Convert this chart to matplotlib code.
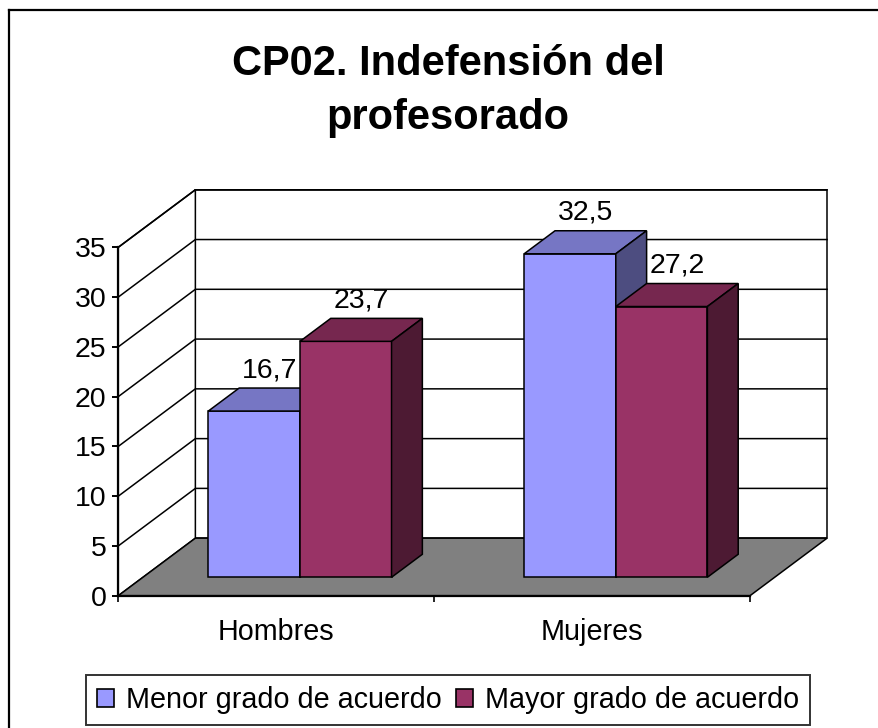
import matplotlib
matplotlib.use("Agg")
import matplotlib.pyplot as plt
from matplotlib.patches import Polygon, Patch
from matplotlib.lines import Line2D

plt.rcParams['font.family'] = ['Liberation Sans', 'DejaVu Sans']

# data
categories = ['Hombres', 'Mujeres']
series = ['Menor grado de acuerdo', 'Mayor grado de acuerdo']
menor = [16.7, 32.5]
mayor = [23.7, 27.2]
values = [menor, mayor]
yticks = [0, 5, 10, 15, 20, 25, 30, 35]

# styling
front_cols = ['#9999FF', '#993366']
top_cols = ['#7676C4', '#76274F']
side_cols = ['#4D4D80', '#4D1A33']
YMAX = 35
DX, DY = 0.244, 5.78        # oblique depth offset, in data units
D0, D1 = 0.32, 0.72         # bar depth range (fraction of floor depth)
BAR_W = 0.29
BAR_X0 = 0.207

W, H = 879, 728
fig = plt.figure(figsize=(W / 100, H / 100), dpi=100)
ax = fig.add_axes([118.3 / W, (H - 595.7) / H, (750 - 118.3) / W, (595.7 - 247.3) / H])
ax.set_xlim(0, len(categories))
ax.set_ylim(0, YMAX)
ax.patch.set_visible(False)


def P(x, v, d):
    return (x + d * DX, v + d * DY)


def poly(pts, fc, z=1, lw=1.1):
    ax.add_patch(Polygon(pts, closed=True, facecolor=fc, edgecolor='black',
                         linewidth=lw, joinstyle='miter', clip_on=False, zorder=z))


n = len(categories)
# walls and floor
poly([P(0, 0, 1), P(n, 0, 1), P(n, YMAX, 1), P(0, YMAX, 1)], 'white', 1)
poly([P(0, 0, 0), P(0, 0, 1), P(0, YMAX, 1), P(0, YMAX, 0)], 'white', 1)
poly([P(0, 0, 0), P(n, 0, 0), P(n, 0, 1), P(0, 0, 1)], '#808080', 1.2)

# gridlines
for v in yticks[1:]:
    xs, ys = zip(P(0, v, 0), P(0, v, 1), P(n, v, 1))
    ax.add_line(Line2D(xs, ys, color='black', lw=1.1, clip_on=False, zorder=1.1))

# bars
for i in range(n):
    for j, vals in enumerate(values):
        v = vals[i]
        x0 = i + BAR_X0 + j * BAR_W
        x1 = x0 + BAR_W
        z = 2 + i * 2 + j * 0.5
        poly([P(x0, 0, D0), P(x1, 0, D0), P(x1, v, D0), P(x0, v, D0)], front_cols[j], z)
        poly([P(x0, v, D0), P(x1, v, D0), P(x1, v, D1), P(x0, v, D1)], top_cols[j], z)
        poly([P(x1, 0, D0), P(x1, 0, D1), P(x1, v, D1), P(x1, v, D0)], side_cols[j], z)
        tx, ty = P((x0 + x1) / 2, v, (D0 + D1) / 2)
        ax.text(tx, v + D1 * DY + 1.1, f'{v:.1f}'.replace('.', ','), ha='center',
                va='baseline', fontsize=20.5, zorder=10)

# axes
for s in ['top', 'right']:
    ax.spines[s].set_visible(False)
for s in ['left', 'bottom']:
    ax.spines[s].set_linewidth(1.6)
    ax.spines[s].set_zorder(5)
ax.set_yticks(yticks)
ax.tick_params(axis='y', direction='out', length=4.5, width=1.4, pad=4, labelsize=20.5)
ax.set_xticks(range(n + 1))
ax.set_xticklabels([])
ax.tick_params(axis='x', which='major', direction='out', length=4, width=1.2)
ax.set_xticks([i + 0.5 for i in range(n)], minor=True)
ax.set_xticklabels(categories, minor=True)
ax.tick_params(axis='x', which='minor', length=0, pad=16, labelsize=20.7)

# title
fig.text(448 / W, 1 - 91 / H, 'CP02. Indefensión del\nprofesorado', ha='center', va='center',
         fontsize=30, fontweight='bold', linespacing=1.42)

# legend
handles = [Patch(facecolor=c, edgecolor='black', linewidth=1.2) for c in front_cols]
leg = fig.legend(handles, series, loc='center', bbox_to_anchor=(448.4 / W, 1 - 700.3 / H),
                 ncol=2, fontsize=20.7, frameon=True, fancybox=False, handlelength=0.59,
                 handleheight=0.59, handletextpad=0.42, columnspacing=0.49, borderpad=0.38)
leg.get_frame().set_edgecolor('black')
leg.get_frame().set_linewidth(1.4)

# outer chart frame (left and top visible)
fig.add_artist(Line2D([9 / W, 9 / W], [1 - 10 / H, -0.05], color='black', lw=1.6,
                      transform=fig.transFigure))
fig.add_artist(Line2D([9 / W, 1.05], [1 - 10 / H, 1 - 10 / H], color='black', lw=1.6,
                      transform=fig.transFigure))

fig.savefig('out.png', dpi=100)
